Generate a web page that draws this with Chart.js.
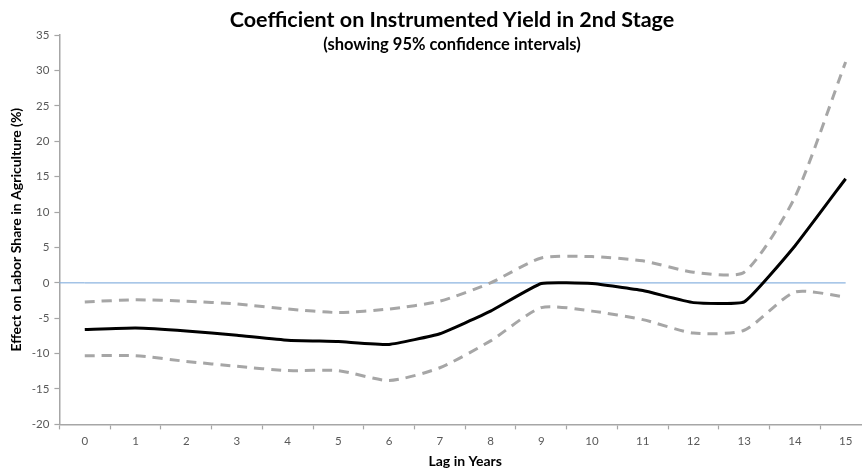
<!DOCTYPE html>
<html>
<head>
<meta charset="utf-8">
<script src="https://cdn.jsdelivr.net/npm/chart.js@4/dist/chart.umd.min.js"></script>
<style>
  html, body { margin: 0; padding: 0; background: #fff; overflow: hidden; }
  #wrap { position: relative; width: 904px; height: 470px; }
  #c { position: absolute; left: 0; top: 0; }
  .t { position: absolute; left: 0; width: 904px; text-align: center; font-family: Lato, "Open Sans", sans-serif; font-weight: bold; color: #000; white-space: nowrap; line-height: 1.2; }
  #title { top: 7px; font-size: 21.5px; }
  #subtitle { top: 35px; font-size: 16.5px; }
</style>
</head>
<body>
<div id="wrap">
  <canvas id="c" width="904" height="470"></canvas>
  <div id="title" class="t"></div>
  <div id="subtitle" class="t"></div>
</div>
<script>
const titleText = "Coefficient on Instrumented Yield in 2nd Stage";
const subtitleText = "(showing 95% confidence intervals)";
const xAxisTitle = "Lag in Years";
const yAxisTitle = "Effect on Labor Share in Agriculture (%)";

const lags = ["0","1","2","3","4","5","6","7","8","9","10","11","12","13","14","15"];
const coefficient = [-6.6, -6.4, -6.8, -7.4, -8.1, -8.3, -8.7, -7.2, -4.0, -0.1, -0.1, -1.1, -2.8, -2.7, 5.2, 14.7];
const upperCI    = [-2.7, -2.4, -2.6, -3.0, -3.7, -4.2, -3.7, -2.6, 0.0, 3.5, 3.7, 3.1, 1.5, 1.5, 12.1, 31.2];
const lowerCI    = [-10.3, -10.3, -11.1, -11.8, -12.4, -12.4, -13.8, -12.0, -8.2, -3.5, -4.0, -5.2, -7.1, -6.7, -1.3, -2.0];
const zeroLine   = lags.map(() => 0);
const yMin = -20, yMax = 35, yStep = 5;

document.getElementById('title').textContent = titleText;
document.getElementById('subtitle').textContent = subtitleText;

// extend the zero reference line to the y axis (Excel-style)
const zeroExtend = {
  id: 'zeroExtend',
  beforeDatasetsDraw(chart) {
    const ctx = chart.ctx;
    const y = chart.scales.y.getPixelForValue(0);
    const x0 = chart.chartArea.left;
    const x1 = chart.scales.x.getPixelForValue(0);
    ctx.save();
    ctx.strokeStyle = '#8cb4e0';
    ctx.lineWidth = 1.2;
    ctx.beginPath();
    ctx.moveTo(x0, y);
    ctx.lineTo(x1, y);
    ctx.stroke();
    ctx.restore();
  }
};

const gray = '#a6a6a6';
new Chart(document.getElementById('c'), {
  type: 'line',
  data: {
    labels: lags,
    datasets: [
      { label: 'Coefficient', data: coefficient, borderColor: '#000', borderWidth: 3, pointRadius: 0, tension: 0.12, fill: false, order: 1 },
      { label: 'Upper 95% CI', data: upperCI, borderColor: gray, borderWidth: 3, borderDash: [10, 7], pointRadius: 0, tension: 0.22, fill: false, order: 2 },
      { label: 'Lower 95% CI', data: lowerCI, borderColor: gray, borderWidth: 3, borderDash: [10, 7], pointRadius: 0, tension: 0.22, fill: false, order: 2 },
      { label: 'Zero', data: zeroLine, borderColor: '#8cb4e0', borderWidth: 1.2, pointRadius: 0, tension: 0, fill: false, order: 3 }
    ]
  },
  options: {
    responsive: false,
    animation: false,
    layout: { padding: { top: 35, right: 33, bottom: 0, left: 8 } },
    plugins: {
      legend: { display: false },
      tooltip: { enabled: false },
      title: { display: false }
    },
    scales: {
      x: {
        offset: true,
        grid: { display: true, drawOnChartArea: false, offset: true, tickLength: 5, color: gray, tickWidth: 1.2 },
        border: { display: true, color: gray, width: 1.5 },
        ticks: { color: '#595959', font: { family: 'Lato', size: 11.5 }, padding: 5, maxRotation: 0, autoSkip: false },
        title: { display: true, text: xAxisTitle, color: '#000', font: { family: 'Lato', size: 14, weight: 'bold' }, padding: { top: 0, bottom: 0 } }
      },
      y: {
        min: yMin, max: yMax,
        ticks: { stepSize: yStep, color: '#595959', font: { family: 'Lato', size: 11.5 }, padding: 5 },
        grid: { display: true, drawOnChartArea: false, tickLength: 5, color: gray, tickWidth: 1.2 },
        border: { display: true, color: gray, width: 1.5 },
        title: { display: true, text: yAxisTitle, color: '#000', font: { family: 'Lato', size: 14, weight: 'bold' }, padding: { top: 0, bottom: 2 } }
      }
    }
  },
  plugins: [zeroExtend]
});
</script>
</body>
</html>
